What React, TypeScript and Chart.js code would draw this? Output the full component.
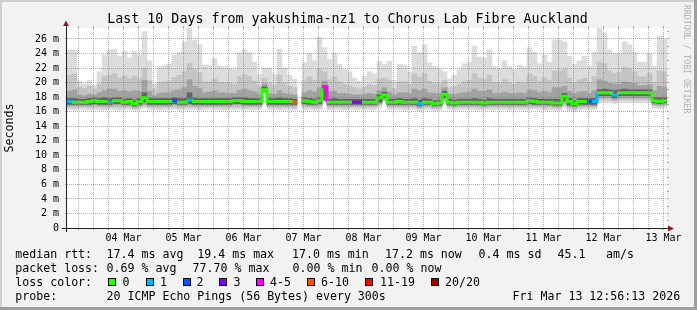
import React, { useEffect, useRef } from 'react';
import { Chart, registerables } from 'chart.js';

Chart.register(...registerables);

// ---- time axis (hours relative to 04 Mar 00:00) ----
const START_HOUR = -10.6;
const COLUMN_HOURS = 2;
const SPAN_HOURS = 240;
const Y_MAX = 27.5;

const dayLabels = ['04 Mar', '05 Mar', '06 Mar', '07 Mar', '08 Mar', '09 Mar', '10 Mar', '11 Mar', '12 Mar', '13 Mar'];

// ---- median rtt per 2h column (ms) ----
const median = [
  17.4, 17.3, 17.3, 17.3, 17.4, 17.5, 17.4, 17.4, 17.3, 17.5,
  17.5, 17.3, 17.4, 17.1, 17.4, 17.9, 17.4, 17.4, 17.4, 17.4,
  17.4, 17.5, 17.3, 17.3, 17.6, 17.4, 17.4, 17.4, 17.4, 17.4,
  17.4, 17.4, 17.4, 17.5, 17.5, 17.4, 17.4, 17.4, 17.4, 19.0,
  17.4, 17.4, 17.4, 17.4, 17.4, 17.3, null, 17.5, 17.4, 17.3,
  17.5, 19.4, 17.3, 17.3, 17.3, 17.3, 17.3, 17.3, 17.3, 17.3,
  17.3, 17.3, 17.9, 18.3, 17.3, 17.3, 17.4, 17.3, 17.3, 17.3,
  17.1, 17.3, 17.3, 17.1, 17.2, 18.4, 17.3, 17.2, 17.3, 17.3,
  17.3, 17.3, 17.3, 17.2, 17.3, 17.3, 17.3, 17.3, 17.3, 17.3,
  17.3, 17.3, 17.5, 17.4, 17.3, 17.3, 17.3, 17.2, 17.2, 18.1,
  17.4, 17.1, 17.4, 17.4, 17.4, 17.4, 18.6, 18.6, 18.6, 18.3,
  18.6, 18.6, 18.6, 18.6, 18.6, 18.6, 18.6, 17.5, 17.4, 17.5,
];

// ---- lost pings (of 20) per column ----
const lostPings = [
  1, 0, 0, 0, 0, 0, 0, 0, 1, 0,
  0, 0, 0, 0, 0, 0, 0, 0, 0, 0,
  0, 2, 0, 0, 1, 0, 0, 0, 0, 0,
  0, 0, 0, 0, 0, 0, 0, 0, 0, 0,
  0, 0, 0, 0, 0, 7, null, 0, 0, 0,
  0, 4, 0, 0, 0, 0, 0, 3, 3, 0,
  0, 0, 0, 0, 0, 0, 0, 0, 0, 0,
  1, 0, 0, 0, 0, 0, 0, 0, 0, 0,
  0, 0, 0, 0, 0, 0, 0, 0, 0, 0,
  0, 0, 0, 0, 0, 0, 0, 0, 0, 0,
  0, 0, 0, 0, 2, 1, 0, 0, 0, 1,
  0, 0, 0, 0, 0, 0, 0, 0, 0, 0,
];

// ---- smoke: outer (lightest) band ----
const smokeMaxHigh = [
  24.5, 24.5, 20.2, 19.8, 20.3, 19.6, 21.5, 23.8, 24.5, 24.6,
  23.6, 24.3, 23.4, 24.3, 23.8, 27.0, 23.0, 19.8, 22.2, 22.4,
  22.6, 23.8, 24.2, 25.6, 27.7, 25.8, 25.2, 22.4, 22.4, 23.3,
  22.3, 22.2, 22.0, 21.8, 24.1, 24.6, 24.1, 22.8, 21.1, 22.0,
  22.0, 21.2, 24.6, 22.0, 21.0, 20.5, null, 22.7, 24.0, 23.0,
  26.2, 24.8, 23.2, 24.0, 22.5, 21.8, 21.5, 20.6, 20.2, 20.8,
  21.5, 21.2, 22.9, 22.5, 22.9, 20.3, 22.5, 22.4, 21.5, 25.0,
  24.1, 25.2, 22.7, 22.2, 21.8, 21.5, 20.5, 21.0, 21.8, 22.6,
  22.8, 25.0, 23.5, 23.4, 24.5, 22.2, 22.0, 23.0, 22.2, 21.8,
  22.4, 22.2, 24.8, 24.1, 22.6, 23.8, 22.8, 25.9, 25.9, 25.6,
  23.6, 22.5, 23.0, 23.6, 22.2, 24.2, 27.5, 26.8, 24.5, 24.0,
  24.0, 25.6, 25.2, 24.2, 22.8, 22.8, 24.0, 22.2, 26.4, 26.0,
];
const smokeMinLow = [
  16.3, 16.2, 16.3, 16.3, 16.2, 16.3, 16.3, 16.2, 16.3, 16.3,
  16.2, 16.3, 16.3, 16.1, 16.3, 16.5, 16.3, 16.3, 16.2, 16.3,
  16.3, 16.3, 16.2, 16.3, 16.3, 16.3, 16.2, 16.3, 16.3, 16.3,
  16.3, 16.2, 16.3, 16.3, 16.3, 16.2, 16.3, 16.3, 16.3, 18.5,
  16.3, 16.3, 16.2, 16.3, 16.3, 16.2, null, 16.3, 16.3, 16.2,
  16.3, 17.5, 16.2, 16.3, 16.3, 16.2, 16.3, 16.3, 16.3, 16.2,
  16.3, 16.3, 16.6, 17.4, 16.3, 16.3, 16.3, 16.2, 16.3, 16.3,
  16.1, 16.3, 16.3, 16.1, 16.2, 17.2, 16.3, 16.2, 16.3, 16.3,
  16.3, 16.3, 16.2, 16.2, 16.3, 16.3, 16.3, 16.3, 16.2, 16.3,
  16.3, 16.3, 16.3, 16.3, 16.3, 16.2, 16.3, 16.2, 16.2, 16.6,
  16.1, 16.0, 16.2, 16.3, 16.3, 16.3, 17.2, 17.2, 17.2, 17.1,
  17.2, 17.2, 17.2, 17.2, 17.2, 17.2, 17.2, 16.5, 16.4, 16.5,
];

// ---- smoke: second band ----
const smoke2High = [
  21.0, 21.2, 19.4, 19.2, 19.5, 19.1, 19.8, 20.8, 21.0, 21.2,
  20.6, 20.9, 20.5, 20.9, 20.6, 22.0, 20.3, 19.1, 20.0, 20.1,
  20.2, 20.7, 21.0, 21.5, 22.6, 21.8, 21.4, 20.1, 20.1, 20.5,
  20.0, 20.0, 19.9, 19.8, 20.8, 21.1, 20.8, 20.2, 19.5, 20.6,
  19.9, 19.6, 21.0, 19.9, 19.5, 19.3, null, 20.2, 20.8, 20.3,
  21.8, 21.5, 20.4, 20.8, 20.1, 19.8, 19.6, 19.3, 19.1, 19.4,
  19.7, 19.6, 20.5, 20.6, 20.3, 19.2, 20.1, 20.1, 19.7, 21.2,
  20.7, 21.2, 20.2, 19.9, 19.8, 20.3, 19.3, 19.5, 19.8, 20.2,
  20.3, 21.2, 20.6, 20.5, 21.0, 20.0, 19.9, 20.4, 20.0, 19.8,
  20.1, 20.0, 21.2, 20.8, 20.2, 20.7, 20.3, 21.6, 21.6, 21.8,
  20.6, 20.0, 20.4, 20.6, 20.0, 20.8, 22.8, 22.6, 21.6, 21.2,
  21.4, 22.1, 21.9, 21.5, 20.8, 20.8, 21.3, 20.0, 21.6, 21.5,
];
const smoke2Low = [
  16.6, 16.5, 16.6, 16.6, 16.5, 16.6, 16.6, 16.5, 16.6, 16.6,
  16.5, 16.6, 16.6, 16.4, 16.6, 16.8, 16.6, 16.6, 16.5, 16.6,
  16.6, 16.6, 16.5, 16.6, 16.6, 16.6, 16.5, 16.6, 16.6, 16.6,
  16.6, 16.5, 16.6, 16.6, 16.6, 16.5, 16.6, 16.6, 16.6, 18.6,
  16.6, 16.6, 16.5, 16.6, 16.6, 16.5, null, 16.6, 16.6, 16.5,
  16.6, 17.5, 16.5, 16.6, 16.6, 16.5, 16.6, 16.6, 16.6, 16.5,
  16.6, 16.6, 16.9, 17.5, 16.6, 16.6, 16.6, 16.5, 16.6, 16.6,
  16.4, 16.6, 16.6, 16.4, 16.5, 17.4, 16.6, 16.5, 16.6, 16.6,
  16.6, 16.6, 16.5, 16.5, 16.6, 16.6, 16.6, 16.6, 16.5, 16.6,
  16.6, 16.6, 16.6, 16.6, 16.6, 16.5, 16.6, 16.5, 16.5, 16.9,
  16.4, 16.3, 16.5, 16.6, 16.6, 16.6, 17.6, 17.6, 17.6, 17.4,
  17.6, 17.6, 17.6, 17.6, 17.6, 17.6, 17.6, 16.8, 16.7, 16.8,
];

// ---- smoke: third band ----
const smoke3High = [
  18.8, 19.0, 18.3, 18.2, 18.4, 18.3, 18.6, 18.9, 19.1, 19.1,
  18.8, 18.9, 18.7, 18.9, 18.8, 20.3, 18.8, 18.2, 18.5, 18.6,
  18.6, 18.9, 19.0, 19.3, 20.4, 19.5, 19.2, 18.6, 18.7, 18.9,
  18.6, 18.6, 18.5, 18.5, 18.9, 19.1, 18.9, 18.7, 18.4, 19.8,
  18.5, 18.4, 18.9, 18.5, 18.4, 18.3, null, 18.6, 18.9, 18.7,
  19.3, 20.2, 18.7, 18.8, 18.5, 18.5, 18.4, 18.3, 18.3, 18.4,
  18.5, 18.4, 18.9, 19.3, 18.7, 18.3, 18.6, 18.6, 18.5, 19.1,
  18.9, 19.1, 18.6, 18.5, 18.5, 19.3, 18.4, 18.4, 18.5, 18.6,
  18.7, 19.1, 18.8, 18.8, 19.0, 18.5, 18.5, 18.7, 18.5, 18.5,
  18.6, 18.5, 19.0, 18.9, 18.6, 18.8, 18.6, 19.3, 19.3, 19.5,
  18.8, 18.5, 18.7, 18.8, 18.5, 18.9, 20.4, 20.2, 19.9, 19.8,
  19.8, 20.1, 20.0, 19.9, 19.6, 19.6, 19.7, 18.9, 19.5, 19.4,
];
const smoke3Low = [
  16.8, 16.8, 16.8, 16.8, 16.8, 16.9, 16.8, 16.8, 16.8, 16.9,
  16.9, 16.8, 16.8, 16.6, 16.8, 17.0, 16.8, 16.8, 16.8, 16.8,
  16.8, 16.9, 16.8, 16.8, 16.9, 16.8, 16.8, 16.8, 16.8, 16.8,
  16.8, 16.8, 16.8, 16.9, 16.9, 16.8, 16.8, 16.8, 16.8, 18.7,
  16.8, 16.8, 16.8, 16.8, 16.8, 16.8, null, 16.9, 16.8, 16.8,
  16.9, 17.6, 16.8, 16.8, 16.8, 16.8, 16.8, 16.8, 16.8, 16.8,
  16.8, 16.8, 17.1, 17.7, 16.8, 16.8, 16.8, 16.8, 16.8, 16.8,
  16.6, 16.8, 16.8, 16.6, 16.7, 17.7, 16.8, 16.7, 16.8, 16.8,
  16.8, 16.8, 16.8, 16.7, 16.8, 16.8, 16.8, 16.8, 16.8, 16.8,
  16.8, 16.8, 16.9, 16.8, 16.8, 16.8, 16.8, 16.7, 16.7, 17.2,
  16.7, 16.6, 16.8, 16.8, 16.8, 16.8, 17.9, 17.9, 17.9, 17.7,
  17.9, 17.9, 17.9, 17.9, 17.9, 17.9, 17.9, 17.0, 16.9, 17.0,
];

// ---- smoke: inner (darkest) band ----
const smoke4High = [
  17.8, 17.8, 17.7, 17.7, 17.8, 17.9, 17.8, 17.9, 17.8, 17.9,
  17.9, 17.7, 17.8, 17.6, 17.8, 18.6, 17.8, 17.8, 17.8, 17.8,
  17.8, 17.9, 17.8, 17.8, 18.6, 17.9, 17.8, 17.8, 17.8, 17.8,
  17.8, 17.8, 17.8, 17.9, 17.9, 17.9, 17.8, 17.8, 17.8, 19.4,
  17.8, 17.8, 17.9, 17.8, 17.8, 17.7, null, 17.9, 17.8, 17.7,
  17.9, 19.6, 17.7, 17.8, 17.7, 17.7, 17.7, 17.7, 17.7, 17.7,
  17.7, 17.7, 18.3, 18.7, 17.7, 17.7, 17.8, 17.7, 17.7, 17.8,
  17.6, 17.8, 17.7, 17.5, 17.6, 18.8, 17.7, 17.6, 17.7, 17.7,
  17.7, 17.8, 17.7, 17.6, 17.8, 17.7, 17.7, 17.7, 17.7, 17.7,
  17.7, 17.7, 17.9, 17.8, 17.7, 17.7, 17.7, 17.7, 17.7, 18.5,
  17.8, 17.5, 17.8, 17.8, 17.8, 17.8, 19.0, 19.1, 19.0, 18.9,
  19.0, 19.1, 19.0, 19.0, 19.0, 19.0, 19.0, 17.9, 17.9, 17.9,
];
const smoke4Low = [
  17.0, 17.0, 17.0, 17.0, 17.0, 17.1, 17.0, 17.0, 17.0, 17.1,
  17.1, 17.0, 17.0, 16.8, 17.0, 17.3, 17.0, 17.0, 17.0, 17.0,
  17.0, 17.1, 17.0, 17.0, 17.1, 17.0, 17.0, 17.0, 17.0, 17.0,
  17.0, 17.0, 17.0, 17.1, 17.1, 17.0, 17.0, 17.0, 17.0, 18.8,
  17.0, 17.0, 17.0, 17.0, 17.0, 17.0, null, 17.1, 17.0, 17.0,
  17.1, 17.6, 17.0, 17.0, 17.0, 17.0, 17.0, 17.0, 17.0, 17.0,
  17.0, 17.0, 17.3, 17.9, 17.0, 17.0, 17.0, 17.0, 17.0, 17.0,
  16.8, 17.0, 17.0, 16.8, 16.9, 17.9, 17.0, 16.9, 17.0, 17.0,
  17.0, 17.0, 17.0, 16.9, 17.0, 17.0, 17.0, 17.0, 17.0, 17.0,
  17.0, 17.0, 17.1, 17.0, 17.0, 17.0, 17.0, 16.9, 16.9, 17.5,
  16.9, 16.8, 17.0, 17.0, 17.0, 17.0, 18.2, 18.2, 18.2, 17.9,
  18.2, 18.2, 18.2, 18.2, 18.2, 18.2, 18.2, 17.2, 17.1, 17.2,
];

// ---- legend content ----
const lossLabels = ['0', '1', '2', '3', '4-5', '6-10', '11-19', '20/20'];
const lossBucketMax = [0, 1, 2, 3, 5, 10, 19, 20];
const lossColors = ['#26ff00', '#00b8ff', '#0059ff', '#7e00ff', '#ff00ff', '#ff5500', '#ff0000', '#a00000'];
const medianStats = ['17.4 ms avg', '19.4 ms max', '17.0 ms min', '17.2 ms now', '0.4 ms sd', '45.1', 'am/s'];
const lossStats = ['0.69 % avg', '77.70 % max', '0.00 % min', '0.00 % now'];
const probeText = '20 ICMP Echo Pings (56 Bytes) every 300s';
const stampText = 'Fri Mar 13 12:56:13 2026';
const titleText = 'Last 10 Days from yakushima-nz1 to Chorus Lab Fibre Auckland';

// ---- layout (pixels) ----
const W = 697;
const H = 310;
const MONO = "'DejaVu Sans Mono', monospace";
const medianStatX = [106.6, 197.3, 292, 385, 478.6, 557.6, 606];
const lossStatX = [106.6, 192.6, 292.6, 371.6];
const boxX = [108, 146, 183, 219, 256, 307, 365, 431];
const boxLabelX = [122.6, 160, 196.6, 233.6, 270, 321, 380, 445];

const GRID = 'rgba(143,143,143,0.75)';
const MGRID = 'rgba(222,79,79,0.6)';
const SMOKE_COLORS = ['#dcdcdc', '#c4c4c4', '#a2a2a2', '#626262'];

function lossColor(n: number | null) {
  if (n == null) return lossColors[0];
  for (let k = 0; k < lossBucketMax.length; k++) if (n <= lossBucketMax[k]) return lossColors[k];
  return lossColors[lossColors.length - 1];
}

const backgroundPlugin = {
  id: 'rrdBackground',
  beforeDraw(chart: any) {
    const { ctx, width, height, chartArea: a } = chart;
    ctx.save();
    ctx.fillStyle = '#f2f2f2';
    ctx.fillRect(0, 0, width, height);
    ctx.fillStyle = '#cfcfcf';
    ctx.fillRect(0, 0, width, 2);
    ctx.fillRect(0, 0, 2, height);
    ctx.fillStyle = '#9e9e9e';
    ctx.fillRect(0, height - 3, width, 3);
    ctx.fillRect(width - 3, 0, 3, height);
    ctx.fillStyle = '#ffffff';
    ctx.fillRect(a.left, a.top, a.right - a.left, a.bottom - a.top);
    ctx.restore();
  },
};

const axesPlugin = {
  id: 'rrdAxes',
  afterDraw(chart: any) {
    const { ctx, chartArea: a } = chart;
    ctx.save();
    ctx.fillStyle = '#1f1f1f';
    ctx.fillRect(a.left - 5, a.bottom, a.right - a.left + 9, 1);
    ctx.fillRect(a.left - 1, a.top - 6, 1, a.bottom - a.top + 10);
    ctx.fillStyle = '#7f1f1f';
    ctx.beginPath();
    ctx.moveTo(a.left - 4, a.top - 2);
    ctx.lineTo(a.left + 2, a.top - 2);
    ctx.lineTo(a.left - 1, a.top - 7.5);
    ctx.closePath();
    ctx.fill();
    ctx.beginPath();
    ctx.moveTo(a.right + 1, a.bottom - 2.5);
    ctx.lineTo(a.right + 1, a.bottom + 3.5);
    ctx.lineTo(a.right + 7, a.bottom + 0.5);
    ctx.closePath();
    ctx.fill();
    ctx.restore();
  },
};

function buildXTicks(scale: any) {
  const ticks = [];
  for (let v = Math.ceil(START_HOUR / 6) * 6; v <= START_HOUR + SPAN_HOURS; v += 6) ticks.push({ value: v });
  scale.ticks = ticks;
}
function buildYTicks(scale: any) {
  const ticks = [];
  for (let v = 0; v <= Math.floor(Y_MAX); v += 1) ticks.push({ value: v });
  scale.ticks = ticks;
}
const xGridColor = (c: any) => (c.tick && ((c.tick.value % 24) + 24) % 24 === 0 ? MGRID : GRID);
const yGridColor = (c: any) => (c.tick && c.tick.value % 2 === 0 ? MGRID : GRID);

export default function App() {
  const canvasRef = useRef<HTMLCanvasElement | null>(null);

  useEffect(() => {
    document.body.style.margin = '0';
    const canvas = canvasRef.current;
    if (!canvas) return;

    const colCenter = (i: number) => START_HOUR + COLUMN_HOURS * i + COLUMN_HOURS / 2;
    const layers = [
      { lo: smokeMinLow, hi: smokeMaxHigh, color: SMOKE_COLORS[0], order: 5 },
      { lo: smoke2Low, hi: smoke2High, color: SMOKE_COLORS[1], order: 4 },
      { lo: smoke3Low, hi: smoke3High, color: SMOKE_COLORS[2], order: 3 },
      { lo: smoke4Low, hi: smoke4High, color: SMOKE_COLORS[3], order: 2 },
    ];
    const smokeSets = layers.map((l) => ({
      type: 'bar' as const,
      data: l.hi.map((h, i) => ({ x: colCenter(i), y: h == null || l.lo[i] == null ? null : [l.lo[i], h] })),
      backgroundColor: l.color,
      borderWidth: 0,
      grouped: false,
      barPercentage: 1,
      categoryPercentage: 1,
      order: l.order,
    }));

    const medianPoints: any[] = [];
    const pointColumn: number[] = [];
    median.forEach((m, i) => {
      const left = START_HOUR + COLUMN_HOURS * i;
      if (m == null) {
        medianPoints.push({ x: left + COLUMN_HOURS / 2, y: null });
        pointColumn.push(i);
      } else {
        medianPoints.push({ x: left, y: m }, { x: left + COLUMN_HOURS, y: m });
        pointColumn.push(i, i);
      }
    });

    const chart = new Chart(canvas, {
      type: 'bar',
      data: {
        datasets: [
          {
            type: 'line',
            data: medianPoints,
            borderColor: lossColors[0],
            borderWidth: 3,
            pointRadius: 0,
            fill: false,
            spanGaps: false,
            tension: 0,
            borderCapStyle: 'butt',
            borderJoinStyle: 'miter',
            order: 0,
            segment: {
              borderColor: (c: any) => lossColor(lostPings[pointColumn[c.p0DataIndex]]),
            },
          } as any,
          ...smokeSets,
        ],
      },
      options: {
        responsive: false,
        animation: false,
        devicePixelRatio: 1,
        events: [],
        layout: { padding: { top: 28, right: 30, bottom: 0, left: 0 } },
        plugins: { legend: { display: false }, title: { display: false }, tooltip: { enabled: false } },
        scales: {
          x: {
            type: 'linear',
            position: 'bottom',
            min: START_HOUR,
            max: START_HOUR + SPAN_HOURS,
            offset: false,
            afterBuildTicks: buildXTicks,
            afterFit: (s: any) => { s.height = 82; },
            grid: { offset: false, color: xGridColor, tickColor: xGridColor, lineWidth: 1, tickLength: 2, z: 1 },
            border: { display: false, dash: [1, 1] },
            ticks: {
              autoSkip: false,
              maxRotation: 0,
              padding: 2,
              color: '#000',
              font: { family: MONO, size: 10 },
              callback: (v: any) => {
                const n = Number(v);
                return ((n % 24) + 24) % 24 === 12 ? dayLabels[(n - 12) / 24] ?? '' : '';
              },
            },
          },
          x2: {
            type: 'linear',
            position: 'top',
            min: START_HOUR,
            max: START_HOUR + SPAN_HOURS,
            offset: false,
            afterBuildTicks: buildXTicks,
            afterFit: (s: any) => { s.height = 0; },
            grid: { offset: false, drawOnChartArea: false, tickColor: xGridColor, tickLength: 2 },
            border: { display: false },
            ticks: { display: false },
          },
          y: {
            type: 'linear',
            position: 'left',
            min: 0,
            max: Y_MAX,
            afterBuildTicks: buildYTicks,
            afterFit: (s: any) => { s.width = 67; },
            grid: { color: yGridColor, tickColor: yGridColor, lineWidth: 1, tickLength: 2, z: 1 },
            border: { display: false, dash: [1, 1] },
            title: {
              display: true,
              text: 'Seconds',
              color: '#000',
              font: { family: MONO, size: 11.6 },
              padding: { top: 3.5, bottom: 0 },
            },
            ticks: {
              padding: 6,
              color: '#000',
              font: { family: MONO, size: 10 },
              callback: (v: any) => {
                const n = Number(v);
                if (n % 2 !== 0) return '';
                return n === 0 ? '0' : `${n} m`;
              },
            },
          },
          y2: {
            type: 'linear',
            position: 'right',
            min: 0,
            max: Y_MAX,
            afterBuildTicks: buildYTicks,
            afterFit: (s: any) => { s.width = 0; },
            grid: { drawOnChartArea: false, tickColor: yGridColor, tickLength: 2 },
            border: { display: false },
            ticks: { display: false },
          },
        },
      } as any,
      plugins: [backgroundPlugin, axesPlugin],
    });
    return () => chart.destroy();
  }, []);

  const txt = (left: number, top: number, s: string, extra: any = {}) => (
    <div
      key={`${left}-${top}-${s}`}
      style={{
        position: 'absolute',
        left,
        top,
        fontFamily: MONO,
        fontSize: 11.6,
        lineHeight: '14px',
        whiteSpace: 'pre',
        color: '#000',
        ...extra,
      }}
    >
      {s}
    </div>
  );

  const row1 = 247.3;
  const row2 = 261.3;
  const row3 = 274.7;
  const row4 = 289;

  return (
    <div style={{ position: 'relative', width: W, height: H, overflow: 'hidden', background: '#f2f2f2' }}>
      <canvas ref={canvasRef} width={W} height={H} style={{ position: 'absolute', left: 0, top: 0, width: W, height: H }} />
      <div
        style={{
          position: 'absolute',
          left: -1,
          top: 11.4,
          width: W,
          textAlign: 'center',
          fontFamily: MONO,
          fontSize: 13.3,
          lineHeight: '16px',
          whiteSpace: 'pre',
          color: '#000',
        }}
      >
        {titleText}
      </div>
      <div
        style={{
          position: 'absolute',
          left: 682,
          top: 5,
          writingMode: 'vertical-rl',
          fontFamily: MONO,
          fontSize: 8.2,
          lineHeight: '10px',
          whiteSpace: 'pre',
          color: '#b0b0b0',
        }}
      >
        RRDTOOL / TOBI OETIKER
      </div>
      {txt(15.3, row1, 'median rtt:')}
      {medianStats.map((s, i) => txt(medianStatX[i], row1, s))}
      {txt(15.3, row2, 'packet loss:')}
      {lossStats.map((s, i) => txt(lossStatX[i], row2, s))}
      {txt(15.3, row3, 'loss color:')}
      {lossLabels.map((s, i) => (
        <React.Fragment key={s}>
          <div
            style={{
              position: 'absolute',
              left: boxX[i],
              top: 278,
              width: 8,
              height: 8,
              boxSizing: 'border-box',
              border: '1px solid #000',
              background: lossColors[i],
            }}
          />
          {txt(boxLabelX[i], row3, s)}
        </React.Fragment>
      ))}
      {txt(15.3, row4, 'probe:')}
      {txt(106.6, row4, probeText)}
      {txt(512.6, row4, stampText)}
    </div>
  );
}
